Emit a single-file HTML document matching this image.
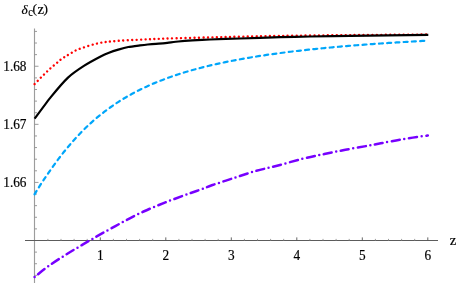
<!DOCTYPE html>
<html><head><meta charset="utf-8"><style>
html,body{margin:0;padding:0;background:#fff;}
svg{display:block}
text{font-family:"Liberation Serif",serif;font-size:13.3px;fill:#000;stroke:#000;stroke-width:0.18px}
</style></head><body>
<svg style="will-change:transform;opacity:0.999" width="459" height="283" viewBox="0 0 459 283">
<rect width="459" height="283" fill="#fff"/>
<g stroke="#555" stroke-width="1" fill="none">
<line x1="34.5" y1="28.5" x2="34.5" y2="283" stroke="#9c9c9c" stroke-width="1.15"/>
<line x1="25" y1="240.5" x2="438" y2="240.5" stroke="#5c5c5c" stroke-width="1.1"/>
<g stroke="#909090" stroke-width="0.9">
<line x1="47.90" y1="240.5" x2="47.90" y2="238.9"/>
<line x1="61.00" y1="240.5" x2="61.00" y2="238.9"/>
<line x1="74.10" y1="240.5" x2="74.10" y2="238.9"/>
<line x1="87.20" y1="240.5" x2="87.20" y2="238.9"/>
<line x1="100.30" y1="240.5" x2="100.30" y2="237.4" stroke="#555"/>
<line x1="113.40" y1="240.5" x2="113.40" y2="238.9"/>
<line x1="126.50" y1="240.5" x2="126.50" y2="238.9"/>
<line x1="139.60" y1="240.5" x2="139.60" y2="238.9"/>
<line x1="152.70" y1="240.5" x2="152.70" y2="238.9"/>
<line x1="165.80" y1="240.5" x2="165.80" y2="237.4" stroke="#555"/>
<line x1="178.90" y1="240.5" x2="178.90" y2="238.9"/>
<line x1="192.00" y1="240.5" x2="192.00" y2="238.9"/>
<line x1="205.10" y1="240.5" x2="205.10" y2="238.9"/>
<line x1="218.20" y1="240.5" x2="218.20" y2="238.9"/>
<line x1="231.30" y1="240.5" x2="231.30" y2="237.4" stroke="#555"/>
<line x1="244.40" y1="240.5" x2="244.40" y2="238.9"/>
<line x1="257.50" y1="240.5" x2="257.50" y2="238.9"/>
<line x1="270.60" y1="240.5" x2="270.60" y2="238.9"/>
<line x1="283.70" y1="240.5" x2="283.70" y2="238.9"/>
<line x1="296.80" y1="240.5" x2="296.80" y2="237.4" stroke="#555"/>
<line x1="309.90" y1="240.5" x2="309.90" y2="238.9"/>
<line x1="323.00" y1="240.5" x2="323.00" y2="238.9"/>
<line x1="336.10" y1="240.5" x2="336.10" y2="238.9"/>
<line x1="349.20" y1="240.5" x2="349.20" y2="238.9"/>
<line x1="362.30" y1="240.5" x2="362.30" y2="237.4" stroke="#555"/>
<line x1="375.40" y1="240.5" x2="375.40" y2="238.9"/>
<line x1="388.50" y1="240.5" x2="388.50" y2="238.9"/>
<line x1="401.60" y1="240.5" x2="401.60" y2="238.9"/>
<line x1="414.70" y1="240.5" x2="414.70" y2="238.9"/>
<line x1="427.80" y1="240.5" x2="427.80" y2="237.4" stroke="#555"/>
<line x1="34.5" y1="275.35" x2="37" y2="275.35"/>
<line x1="34.5" y1="263.73" x2="37" y2="263.73"/>
<line x1="34.5" y1="252.12" x2="37" y2="252.12"/>
<line x1="34.5" y1="228.88" x2="37" y2="228.88"/>
<line x1="34.5" y1="217.27" x2="37" y2="217.27"/>
<line x1="34.5" y1="205.65" x2="37" y2="205.65"/>
<line x1="34.5" y1="194.04" x2="37" y2="194.04"/>
<line x1="34.5" y1="182.42" x2="38.5" y2="182.42"/>
<line x1="34.5" y1="170.80" x2="37" y2="170.80"/>
<line x1="34.5" y1="159.19" x2="37" y2="159.19"/>
<line x1="34.5" y1="147.57" x2="37" y2="147.57"/>
<line x1="34.5" y1="135.96" x2="37" y2="135.96"/>
<line x1="34.5" y1="124.34" x2="38.5" y2="124.34"/>
<line x1="34.5" y1="112.72" x2="37" y2="112.72"/>
<line x1="34.5" y1="101.11" x2="37" y2="101.11"/>
<line x1="34.5" y1="89.49" x2="37" y2="89.49"/>
<line x1="34.5" y1="77.88" x2="37" y2="77.88"/>
<line x1="34.5" y1="66.26" x2="38.5" y2="66.26"/>
<line x1="34.5" y1="54.64" x2="37" y2="54.64"/>
<line x1="34.5" y1="43.03" x2="37" y2="43.03"/>
<line x1="34.5" y1="31.41" x2="37" y2="31.41"/>
</g>
</g>
<path fill="none" stroke="#ff0000" stroke-width="2.4" stroke-linecap="round" stroke-dasharray="0.01 4.44" d="M34.60,84.10 C35.17,83.52 36.85,81.78 38.00,80.60 C39.15,79.42 40.33,78.17 41.50,77.00 C42.67,75.83 43.82,74.75 45.00,73.60 C46.18,72.45 47.42,71.22 48.60,70.10 C49.78,68.98 50.83,67.98 52.10,66.90 C53.37,65.82 54.88,64.73 56.20,63.60 C57.52,62.47 58.62,61.20 60.00,60.10 C61.38,59.00 63.02,57.93 64.50,57.00 C65.98,56.07 66.70,55.73 68.90,54.50 C71.10,53.27 72.85,51.47 77.70,49.60 C82.55,47.73 91.53,44.73 98.00,43.30 C104.47,41.87 109.50,41.60 116.50,41.00 C123.50,40.40 131.87,40.10 140.00,39.70 C148.13,39.30 153.63,38.98 165.30,38.60 C176.97,38.22 197.55,37.72 210.00,37.40 C222.45,37.08 228.33,36.95 240.00,36.70 C251.67,36.45 261.67,36.17 280.00,35.90 C298.33,35.63 325.28,35.33 350.00,35.10 C374.72,34.87 415.25,34.60 428.30,34.50"/>
<path fill="none" stroke="#000" stroke-width="2.2" stroke-linejoin="round" d="M34.60,118.70 C36.22,116.54 47.46,101.21 50.80,97.10 C54.14,92.99 64.69,80.72 68.00,77.60 C71.31,74.48 80.64,68.01 83.90,65.90 C87.16,63.79 98.09,57.82 100.60,56.50 C103.11,55.18 107.23,53.39 109.00,52.70 C110.77,52.01 116.37,50.17 118.30,49.60 C120.23,49.03 126.13,47.42 128.30,47.00 C130.47,46.58 138.06,45.65 140.00,45.40 C141.94,45.15 146.10,44.66 147.70,44.50 C149.30,44.34 154.24,43.94 156.00,43.80 C157.76,43.66 163.07,43.33 165.30,43.10 C167.53,42.87 175.59,41.77 178.30,41.50 C181.01,41.23 189.23,40.60 192.40,40.40 C195.57,40.20 205.24,39.69 210.00,39.50 C214.76,39.31 233.00,38.73 240.00,38.50 C247.00,38.27 273.00,37.40 280.00,37.20 C287.00,37.00 303.00,36.64 310.00,36.50 C317.00,36.36 338.17,35.96 350.00,35.80 C361.83,35.64 420.47,34.99 428.30,34.90"/>
<path fill="none" stroke="#00a6fa" stroke-width="2.2" stroke-linecap="round" stroke-dasharray="4.02 4.22" d="M34.50,194.33 C35.17,193.25 37.17,189.95 38.50,187.84 C39.83,185.73 41.17,183.68 42.50,181.66 C43.83,179.64 45.17,177.65 46.50,175.70 C47.83,173.74 49.17,171.82 50.50,169.92 C51.83,168.03 53.17,166.17 54.50,164.34 C55.83,162.51 57.17,160.71 58.50,158.95 C59.83,157.19 61.17,155.46 62.50,153.77 C63.83,152.07 65.17,150.41 66.50,148.79 C67.83,147.17 69.17,145.58 70.50,144.03 C71.83,142.48 73.17,140.96 74.50,139.48 C75.83,138.00 77.17,136.55 78.50,135.14 C79.83,133.73 81.17,132.35 82.50,131.01 C83.83,129.67 85.17,128.36 86.50,127.08 C87.83,125.80 89.17,124.55 90.50,123.34 C91.83,122.12 93.17,120.94 94.50,119.78 C95.83,118.62 97.17,117.50 98.50,116.40 C99.83,115.30 101.17,114.23 102.50,113.19 C103.83,112.14 105.17,111.13 106.50,110.13 C107.83,109.14 109.17,108.17 110.50,107.23 C111.83,106.29 113.17,105.37 114.50,104.47 C115.83,103.57 117.17,102.70 118.50,101.84 C119.83,100.99 121.17,100.16 122.50,99.34 C123.83,98.53 125.17,97.74 126.50,96.96 C127.83,96.19 129.17,95.43 130.50,94.70 C131.83,93.96 133.17,93.24 134.50,92.53 C135.83,91.83 137.17,91.14 138.50,90.47 C139.83,89.80 141.17,89.15 142.50,88.51 C143.83,87.87 145.17,87.24 146.50,86.63 C147.83,86.02 149.17,85.42 150.50,84.84 C151.83,84.25 153.17,83.68 154.50,83.12 C155.83,82.57 157.17,82.02 158.50,81.49 C159.83,80.95 161.17,80.43 162.50,79.92 C163.83,79.41 165.17,78.91 166.50,78.42 C167.83,77.93 169.17,77.45 170.50,76.98 C171.83,76.51 173.17,76.05 174.50,75.60 C175.83,75.15 177.17,74.71 178.50,74.28 C179.83,73.85 181.17,73.43 182.50,73.01 C183.83,72.60 185.17,72.19 186.50,71.80 C187.83,71.40 189.17,71.01 190.50,70.63 C191.83,70.24 193.17,69.87 194.50,69.50 C195.83,69.13 197.17,68.77 198.50,68.42 C199.83,68.07 201.17,67.72 202.50,67.38 C203.83,67.04 205.17,66.71 206.50,66.38 C207.83,66.05 209.17,65.73 210.50,65.42 C211.83,65.10 213.17,64.79 214.50,64.49 C215.83,64.18 217.17,63.89 218.50,63.59 C219.83,63.30 221.17,63.01 222.50,62.73 C223.83,62.45 225.17,62.17 226.50,61.90 C227.83,61.62 229.17,61.36 230.50,61.09 C231.83,60.83 233.17,60.57 234.50,60.32 C235.83,60.06 237.17,59.81 238.50,59.57 C239.83,59.32 241.17,59.08 242.50,58.84 C243.83,58.60 245.17,58.37 246.50,58.14 C247.83,57.91 249.17,57.69 250.50,57.46 C251.83,57.24 253.17,57.02 254.50,56.81 C255.83,56.59 257.17,56.38 258.50,56.17 C259.83,55.96 261.17,55.76 262.50,55.56 C263.83,55.35 265.17,55.16 266.50,54.96 C267.83,54.76 269.17,54.57 270.50,54.38 C271.83,54.19 273.17,54.01 274.50,53.82 C275.83,53.64 277.17,53.46 278.50,53.28 C279.83,53.10 281.17,52.93 282.50,52.75 C283.83,52.58 285.17,52.41 286.50,52.24 C287.83,52.07 289.17,51.91 290.50,51.74 C291.83,51.58 293.17,51.42 294.50,51.26 C295.83,51.10 297.17,50.95 298.50,50.79 C299.83,50.64 301.17,50.49 302.50,50.34 C303.83,50.19 305.17,50.04 306.50,49.89 C307.83,49.75 309.17,49.61 310.50,49.46 C311.83,49.32 313.17,49.18 314.50,49.05 C315.83,48.91 317.17,48.77 318.50,48.64 C319.83,48.50 321.17,48.37 322.50,48.24 C323.83,48.11 325.17,47.98 326.50,47.86 C327.83,47.73 329.17,47.60 330.50,47.48 C331.83,47.36 333.17,47.23 334.50,47.11 C335.83,46.99 337.17,46.87 338.50,46.76 C339.83,46.64 341.17,46.52 342.50,46.41 C343.83,46.29 345.17,46.18 346.50,46.07 C347.83,45.96 349.17,45.85 350.50,45.74 C351.83,45.63 353.17,45.52 354.50,45.42 C355.83,45.31 357.17,45.21 358.50,45.10 C359.83,45.00 361.17,44.90 362.50,44.80 C363.83,44.69 365.17,44.59 366.50,44.50 C367.83,44.40 369.17,44.30 370.50,44.20 C371.83,44.11 373.17,44.01 374.50,43.92 C375.83,43.82 377.17,43.73 378.50,43.64 C379.83,43.55 381.17,43.46 382.50,43.37 C383.83,43.28 385.17,43.19 386.50,43.10 C387.83,43.01 389.17,42.93 390.50,42.84 C391.83,42.75 393.17,42.67 394.50,42.59 C395.83,42.50 397.17,42.42 398.50,42.34 C399.83,42.26 401.17,42.17 402.50,42.09 C403.83,42.01 405.17,41.94 406.50,41.86 C407.83,41.78 409.17,41.70 410.50,41.62 C411.83,41.55 413.17,41.47 414.50,41.40 C415.83,41.32 417.17,41.25 418.50,41.17 C419.83,41.10 421.48,41.01 422.50,40.96 C423.52,40.90 424.25,40.86 424.60,40.84"/>
<path fill="none" stroke="#7700ff" stroke-width="2.5" stroke-linecap="round" stroke-dasharray="0 4.62 8.1 4.62" d="M34.60,277.00 C36.78,275.28 42.58,270.37 47.70,266.70 C52.82,263.03 59.42,258.72 65.30,255.00 C71.18,251.28 77.10,247.87 83.00,244.40 C88.90,240.93 94.23,237.83 100.70,234.20 C107.17,230.57 114.65,226.38 121.80,222.60 C128.95,218.82 136.33,214.87 143.60,211.50 C150.87,208.13 158.15,205.27 165.40,202.40 C172.65,199.53 181.33,196.40 187.10,194.30 C192.87,192.20 195.88,191.30 200.00,189.80 C204.12,188.30 206.20,187.25 211.80,185.30 C217.40,183.35 226.33,180.47 233.60,178.10 C240.87,175.73 248.15,173.17 255.40,171.10 C262.65,169.03 269.37,167.72 277.10,165.70 C284.83,163.68 294.05,160.92 301.80,159.00 C309.55,157.08 316.33,155.73 323.60,154.20 C330.87,152.67 338.15,151.18 345.40,149.80 C352.65,148.42 361.20,146.98 367.10,145.90 C373.00,144.82 374.88,144.42 380.80,143.30 C386.72,142.18 394.77,140.50 402.60,139.20 C410.43,137.90 423.60,136.12 427.80,135.50"/>
<text x="21.5" y="14.2" font-style="italic">δ</text>
<text transform="translate(28.3,15.9) scale(0.78,1.0)" font-size="10.4px" stroke="#000" stroke-width="0.3">c</text>
<text x="32.6" y="13.3" font-size="12.8px" transform="rotate(0.01)">(</text>
<text transform="translate(37.6,14.2) scale(1.1,1.1)">z</text>
<text x="43.5" y="13.3" font-size="12.8px" transform="rotate(0.01)">)</text>
<g text-anchor="end">
<text transform="translate(26.5,71.2) scale(1,1.07)">1.68</text>
<text transform="translate(26.5,129.3) scale(1,1.07)">1.67</text>
<text transform="translate(26.5,187.4) scale(1,1.07)">1.66</text>
</g>
<g text-anchor="middle">
<text transform="translate(100.3,260) scale(1,1.07)">1</text><text transform="translate(165.8,260) scale(1,1.07)">2</text><text transform="translate(231.3,260) scale(1,1.07)">3</text><text transform="translate(296.8,260) scale(1,1.07)">4</text><text transform="translate(362.3,260) scale(1,1.07)">5</text><text transform="translate(427.8,260) scale(1,1.07)">6</text>
</g>
<text transform="translate(449.8,244.7) scale(1.1,1.1)">z</text>
</svg>
</body></html>
